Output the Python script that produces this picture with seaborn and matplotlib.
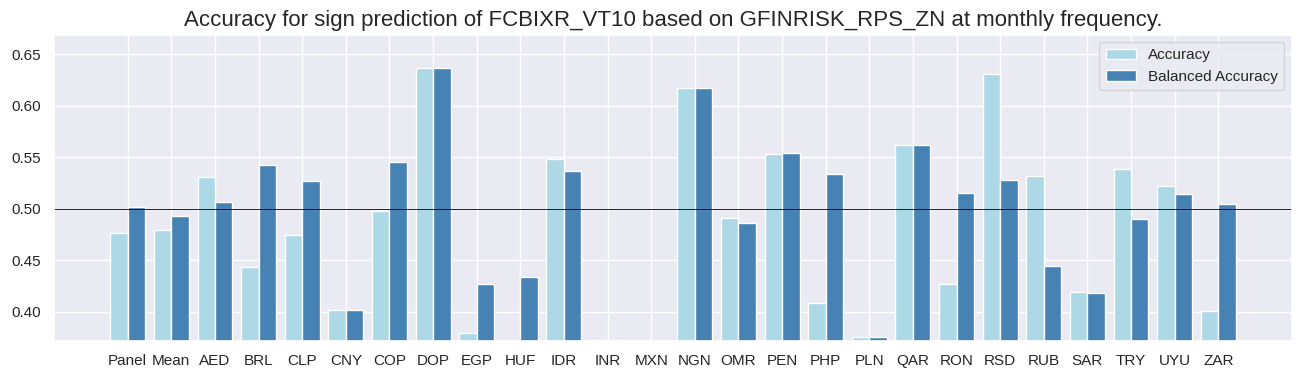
import numpy as np
import pandas as pd
import matplotlib
matplotlib.use("Agg")
import matplotlib.pyplot as plt
import seaborn as sns

categories = ["Panel", "Mean", "AED", "BRL", "CLP", "CNY", "COP", "DOP", "EGP", "HUF",
              "IDR", "INR", "MXN", "NGN", "OMR", "PEN", "PHP", "PLN", "QAR", "RON",
              "RSD", "RUB", "SAR", "TRY", "UYU", "ZAR"]
accuracy = [0.4767, 0.4793, 0.5311, 0.4437, 0.4748, 0.4016, 0.4977, 0.6366, 0.3793, 0.3600,
            0.5482, 0.3725, 0.3550, 0.6172, 0.4909, 0.5534, 0.4084, 0.3754, 0.5618, 0.4268,
            0.6311, 0.5320, 0.4191, 0.5388, 0.5223, 0.4006]
balanced_accuracy = [0.5016, 0.4932, 0.5065, 0.5424, 0.5269, 0.4016, 0.5453, 0.6366, 0.4268, 0.4336,
                     0.5366, 0.3725, 0.3550, 0.6172, 0.4861, 0.5541, 0.5337, 0.3754, 0.5618, 0.5152,
                     0.5278, 0.4443, 0.4181, 0.4900, 0.5142, 0.5045]
series_names = ["Accuracy", "Balanced Accuracy"]
title = "Accuracy for sign prediction of FCBIXR_VT10 based on GFINRISK_RPS_ZN at monthly frequency."

df = pd.DataFrame({
    "cid": categories * 2,
    "value": accuracy + balanced_accuracy,
    "metric": [series_names[0]] * len(categories) + [series_names[1]] * len(categories),
})

sns.set_theme(style="darkgrid")
plt.rcParams["font.family"] = ["Liberation Sans", "DejaVu Sans"]

fig = plt.figure(figsize=(13.03, 3.79), dpi=100)
ax = fig.add_axes([54 / 1303, 1 - 340.7 / 379, (1292 - 54) / 1303, (340.7 - 34.7) / 379])

sns.barplot(data=df, x="cid", y="value", hue="metric", order=categories,
            hue_order=series_names, palette=["lightblue", "steelblue"],
            saturation=1, edgecolor="white", linewidth=1, ax=ax, errorbar=None)

ax.axhline(0.5, color="black", linewidth=0.6)
ax.set_xlim(-1.69, 26.69)
ax.set_ylim(0.372, 0.669)
ax.xaxis.grid(True)
ax.yaxis.grid(True)
ax.set_axisbelow(True)
ax.set_xlabel("")
ax.set_ylabel("")
ax.set_title(title, fontsize=16)
ax.tick_params(axis="both", labelsize=11)
ax.legend(title=None, loc="upper right", fontsize=11)

fig.savefig("out.png", dpi=100)
